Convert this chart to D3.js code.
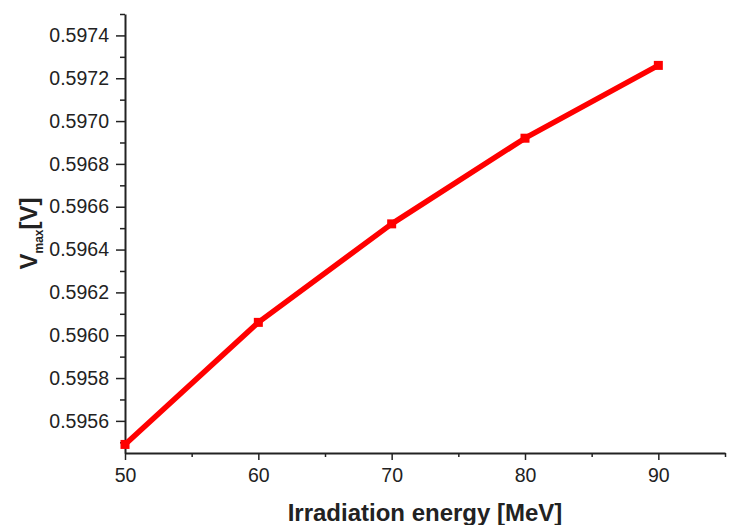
<!DOCTYPE html>
<html>
<head>
<meta charset="utf-8">
<script src="https://cdn.jsdelivr.net/npm/d3@7"></script>
<style>
  body { margin: 0; background: #fff; }
  svg { display: block; font-family: "Liberation Sans", Arial, sans-serif; }
</style>
</head>
<body>
<svg id="chart"></svg>
<script>
// data
let energies = [50, 60, 70, 80, 90];
let vmax = [0.59549, 0.59606, 0.59652, 0.59692, 0.59726];
let xMajor = [50, 60, 70, 80, 90];
let xMinor = [55, 65, 75, 85, 95];
let yMajor = [0.5956, 0.5958, 0.5960, 0.5962, 0.5964, 0.5966, 0.5968, 0.5970, 0.5972, 0.5974];
let yMinor = [0.5955, 0.5957, 0.5959, 0.5961, 0.5963, 0.5965, 0.5967, 0.5969, 0.5971, 0.5973, 0.5975];

let w = 729, h = 525;
let plotL = 125, plotR = 725, plotT = 14, plotB = 453;

let svg = d3.select("#chart")
    .attr("width", w)
    .attr("height", h);

let x = d3.scaleLinear().domain([50, 95]).range([plotL, plotR]);
let y = d3.scaleLinear().domain([0.59545, 0.5975]).range([plotB, plotT]);

// minor ticks first (no labels)
svg.append("g")
    .attr("transform", `translate(0,${plotB})`)
    .call(d3.axisBottom(x).tickValues(xMinor).tickSize(4).tickFormat(""))
    .call(g => g.select(".domain").remove());
svg.append("g")
    .attr("transform", `translate(${plotL},0)`)
    .call(d3.axisLeft(y).tickValues(yMinor).tickSize(5).tickFormat(""))
    .call(g => g.select(".domain").remove());

svg.append("g")
    .attr("transform", `translate(0,${plotB})`)
    .call(d3.axisBottom(x).tickValues(xMajor).tickSize(7).tickSizeOuter(0).tickPadding(8));
svg.append("g")
    .attr("transform", `translate(${plotL},0)`)
    .call(d3.axisLeft(y).tickValues(yMajor).tickSize(9).tickSizeOuter(0).tickPadding(7)
        .tickFormat(d3.format(".4f")));

svg.selectAll(".tick line").attr("stroke", "#222").attr("stroke-width", 1.5);
svg.selectAll(".domain").attr("stroke", "#222").attr("stroke-width", 2);
svg.selectAll(".tick text").attr("font-size", 19.5).attr("fill", "#222")
    .attr("font-family", "Liberation Sans, Arial, sans-serif");

let pts = energies.map((e, i) => [e, vmax[i]]);

svg.append("path")
    .datum(pts)
    .attr("fill", "none")
    .attr("stroke", "#ff0000")
    .attr("stroke-width", 5.5)
    .attr("stroke-linejoin", "round")
    .attr("d", d3.line().x(d => x(d[0])).y(d => y(d[1])));

svg.selectAll("rect.pt")
    .data(pts)
    .enter()
    .append("rect")
    .attr("class", "pt")
    .attr("x", d => x(d[0]) - 4.5)
    .attr("y", d => y(d[1]) - 4.5)
    .attr("width", 9)
    .attr("height", 9)
    .attr("fill", "#ff0000");

// axis titles
svg.append("text")
    .attr("x", (plotL + plotR) / 2)
    .attr("y", 521)
    .attr("text-anchor", "middle")
    .attr("font-size", 24)
    .attr("font-weight", "bold")
    .attr("fill", "#222")
    .text("Irradiation energy [MeV]");

let yt = svg.append("text")
    .attr("transform", `translate(37,${(plotT + plotB) / 2}) rotate(-90)`)
    .attr("text-anchor", "middle")
    .attr("font-size", 24)
    .attr("font-weight", "bold")
    .attr("fill", "#222");
yt.append("tspan").text("V");
yt.append("tspan").attr("font-size", 12).attr("dy", 6).text("max");
yt.append("tspan").attr("dy", -6).text("[V]");
</script>
</body>
</html>
